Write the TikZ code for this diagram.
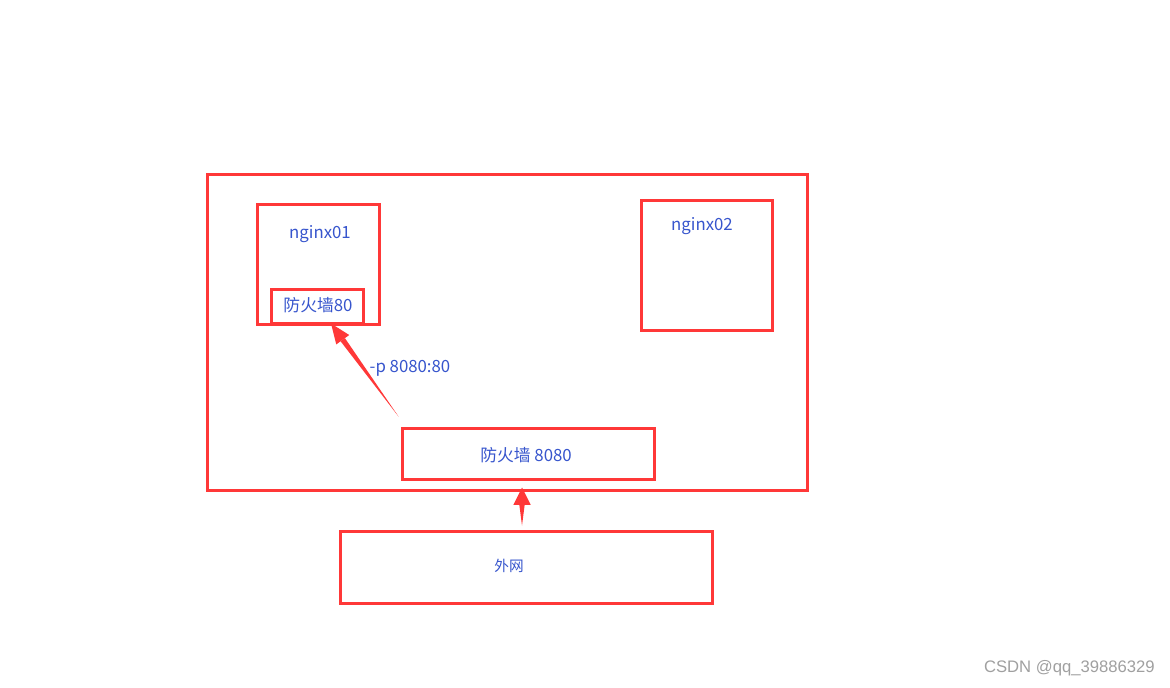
\documentclass[tikz,border=0pt]{standalone}
\usepackage{fontspec}
\setmainfont{Noto Sans CJK SC}
\newfontfamily\wmfont{Liberation Sans}
\usetikzlibrary{calc}
\definecolor{boxred}{RGB}{255,56,56}
\definecolor{txtblue}{RGB}{55,85,205}
\definecolor{wmgray}{RGB}{160,160,160}
\begin{document}
\begin{tikzpicture}[x=0.75pt,y=-0.75pt,
  box/.style={draw=boxred,line width=2.25pt,inner sep=0pt,fill=none},
  lbl/.style={text=txtblue,font=\fontsize{12.6pt}{14pt}\selectfont,inner sep=0pt},
  arrfill/.style={fill=boxred,draw=none}]
\useasboundingbox (0,0) rectangle (1170,687);
\fill[white] (0,0) rectangle (1170,687);
% boxes
\node[box,minimum width=450pt,minimum height=237pt] (outer) at (507,332) {};
\node[box,minimum width=91.5pt,minimum height=90pt] (n1) at (318,264) {};
\node[box,minimum width=69pt,minimum height=25.5pt] (fw80) at (317,306) {};
\node[box,minimum width=98.25pt,minimum height=97.5pt] (n2) at (706.5,265) {};
\node[box,minimum width=189pt,minimum height=38.25pt] (fw8080) at (528,453.5) {};
\node[box,minimum width=279pt,minimum height=54pt] (wan) at (526,567) {};
% labels
\node[lbl] (n1t) at (320,234) {nginx01};
\node[lbl] at (318,305) {防火墙80};
\node[lbl] (n2t) at (702,226) {nginx02};
\node[lbl] at (526,455) {防火墙 8080};
\node[lbl,font=\fontsize{11pt}{12pt}\selectfont] (want) at (509,566) {外网};
\node[lbl] (pl) at (410,368) {-p 8080:80};
\node[text=wmgray,font=\wmfont\fontsize{12.5pt}{14pt}\selectfont,anchor=east,inner sep=0pt] (wm) at (1155,668) {CSDN @qq\_39886329};
% arrow 1: from near fw8080 to fw80
\coordinate (t1) at ($(fw8080.north west)+(-2,-10)$);
\coordinate (h1) at ($(fw80.south)+(14,-1)$);
\coordinate (b1) at ($(h1)!15pt!(t1)$);
\fill[arrfill] (t1) -- ($(b1)!2pt!90:(t1)$) -- ($(b1)!2pt!-90:(t1)$) -- cycle;
\fill[arrfill] (h1) -- ($(b1)!6pt!90:(h1)$) -- ($(b1)!6pt!-90:(h1)$) -- cycle;
% arrow 2: from wan up to outer box
\coordinate (t2) at ($(wan.north)+(-4,-4)$);
\coordinate (h2) at ($(outer.south)+(15,-4)$);
\coordinate (h2) at (t2 |- h2);
\coordinate (b2) at ($(h2)!13pt!(t2)$);
\fill[arrfill] (t2) -- ($(b2)!2pt!90:(t2)$) -- ($(b2)!2pt!-90:(t2)$) -- cycle;
\fill[arrfill] (h2) -- ($(b2)!6.5pt!90:(h2)$) -- ($(b2)!6.5pt!-90:(h2)$) -- cycle;
\end{tikzpicture}
\end{document}
